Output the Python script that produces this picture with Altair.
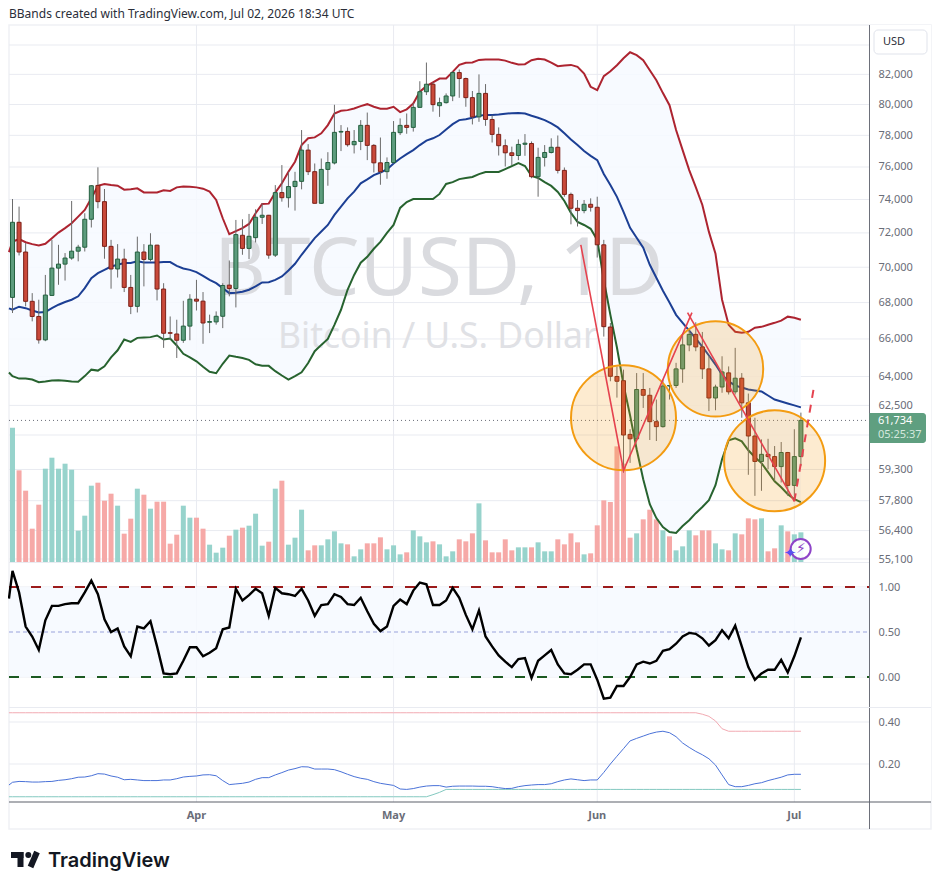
import altair as alt
import pandas as pd

dates = pd.date_range("2026-03-04", "2026-07-02", freq="D").strftime("%Y-%m-%d").tolist()

opens = [68290,72630,70880,68070,67230,65950,68400,69950,70180,70530,70930,71160,72810,74860,73870,71210,69900,70470,68850,67790,
70880,70450,71280,68760,66340,66270,65930,66700,68190,68080,66910,66930,67240,68980,68790,71860,71090,71720,72930,73050,
70700,74420,74110,74790,75110,77060,75710,73770,75850,76250,78210,78250,77400,77610,78640,77360,76260,75710,76280,78170,
78640,78510,79810,80840,81340,79920,80120,80560,82120,81720,80450,79190,80730,79020,78060,77340,76890,76720,77430,77480,
75400,76600,76910,77240,75790,74310,73470,73330,73710,73530,71300,66650,64000,63780,61030,60810,63320,63020,61670,61420,
63500,63530,64400,65680,66250,65570,64400,62880,63450,64190,63200,63910,62630,60950,59690,60040,59930,59440,60130,58530,59930]
highs = [74030,73570,71400,68530,68160,69560,71590,71300,70820,73910,71300,73170,74880,75980,74640,71590,71340,71070,69560,71780,
71340,71980,71300,69090,67230,67050,68100,68470,69280,68590,67330,67510,69090,70390,72770,72810,73130,73410,73770,73070,
74880,76120,75700,75700,78340,77440,76220,76530,76930,79980,78660,78510,78340,78980,79470,77440,77860,76600,78920,79090,
79410,80100,81540,82800,81460,80450,80730,82230,82330,81780,80890,82000,81350,79300,78510,77740,77280,77740,78080,77610,
77210,77380,77810,77990,75970,74420,73970,73970,74070,74170,71590,66870,64530,64360,61290,64180,64180,63400,62800,63840,
63530,64720,66320,66590,66910,66380,65070,63570,65070,64530,65520,64180,63110,61870,60780,60810,60450,60650,60160,61290,62130]
lows = [67420,70680,67790,66960,65750,65880,68400,69000,69240,70430,70340,70910,72320,73470,70490,68780,69410,68590,67360,67450,
68910,70340,68120,65520,65970,64980,65790,65930,67560,65740,66320,66780,66590,68350,67730,70720,70470,71440,72530,70490,
70590,73870,73510,73330,74620,75500,73770,73730,74840,76160,77000,77280,76850,77060,76430,75660,74900,75270,76220,78020,
78100,78240,79810,80620,79530,79190,80060,80220,80440,79850,78700,78870,78610,77540,76720,76030,76120,76430,76700,75300,
74170,76030,76850,75600,74170,72510,72380,73170,73270,70560,66130,63750,62900,59150,59620,60780,62370,60750,60700,61370,
62800,63400,63670,65340,65340,63870,62210,62250,63150,63060,63060,61870,59040,58030,58270,59310,58750,58670,58030,57790,59460]
closes = [72630,70880,68070,67230,65950,68420,69950,70180,70530,70930,71160,72810,74840,73870,71210,69900,70470,68850,67790,70880,
70450,71280,68760,66310,66310,65930,66700,68190,68080,66870,66950,67240,68960,68790,71900,71090,71800,72930,73050,70700,
74420,74110,74790,75110,77060,75710,73770,75850,76280,78190,78250,77400,77610,78640,77360,76260,75710,76280,78190,78640,
78510,79810,80840,81340,79990,80120,80560,82120,81720,80450,79190,80730,79020,78060,77340,76890,76720,77420,77500,75400,
76600,76910,77240,75790,74310,73470,73330,73710,73530,71300,66670,64010,63750,61000,60810,63320,63020,61670,61420,63500,
63530,64400,65680,66250,65570,64400,62880,63450,64240,63200,63910,62630,60950,59690,60040,59930,59440,60130,58530,59930,61734]

bb_upper = [71490,71630,71450,71340,71260,71360,71690,72020,72280,72570,72970,73370,74070,74840,74950,74880,74840,74600,74620,74680,
74430,74430,74430,74560,74520,74740,74800,74780,74740,74660,74480,73970,72870,71920,72100,72280,72530,73170,73730,73750,
74420,74990,75710,76330,77380,77810,77870,78130,78660,79410,79590,79630,79740,79890,80020,79850,79720,79720,79850,79500,
79680,80060,80840,81210,81460,81720,81720,82170,82640,82780,82800,82980,83000,83000,83000,82930,82780,82670,82690,82960,
83050,83000,82800,82550,82600,82640,82510,82060,81170,80945,81880,82210,82620,83090,83500,83300,82957,82280,81610,80750,
79950,78340,77060,75810,74760,73670,72060,70780,68160,66770,66390,66340,66390,66610,66660,66770,66880,67000,67220,67160,67050]
bb_basis = [67600,67770,67690,67560,67450,67470,67690,67880,68030,68160,68350,68810,69370,69660,69850,70040,70140,70240,70240,70340,
70280,70280,70280,70300,70300,70080,69930,69850,69720,69510,69280,69090,68810,68530,68550,68610,68720,68910,69130,69150,
69280,69470,69810,70200,70720,71210,71690,72080,72470,73070,73570,74070,74480,74990,75230,75500,75660,75850,76220,76530,
76810,77060,77380,77660,77810,78020,78380,78720,78980,79040,79130,79260,79320,79320,79340,79390,79430,79450,79410,79260,
79130,78980,78770,78510,78130,77740,77380,77000,76700,76430,75570,74880,74160,73250,72300,71710,71130,70140,69400,68660,
68000,67320,66880,66450,66020,65590,65110,64630,64100,63740,63530,63420,63320,63270,63220,63010,62800,62700,62600,62500,62400]
bb_lower = [64020,63890,63890,63840,63700,63740,63790,63800,63770,63740,63720,64020,64360,64310,64540,65010,65390,65970,65840,66060,
66080,66100,66190,65970,66020,65650,65200,65010,64800,64510,64250,64170,64670,65110,65040,64980,64880,64640,64570,64560,
64280,64050,63840,64020,64220,64710,65340,65680,66000,66770,67600,68720,69560,70260,70600,71070,71470,72000,72470,73490,
73850,74030,74030,74030,74030,74340,74950,75060,75250,75320,75380,75560,75690,75690,75690,75870,76060,76240,76060,75440,
75320,75060,74830,74460,73910,73190,72650,72470,72240,71590,69280,67320,65540,63570,61990,60290,58830,57630,56980,56560,
56330,56290,56610,56880,57210,57500,57820,58540,59800,60730,60830,60680,60240,59900,59610,59170,58730,58440,58110,57870,57730]

volumes = [403,275,214,100,172,280,313,280,295,277,94,139,229,238,184,205,169,85,130,220,
202,160,181,181,55,82,169,133,133,100,52,28,43,79,97,103,109,145,49,61,
220,244,52,73,157,35,50,50,68,92,56,53,17,38,56,56,74,38,50,23,
29,95,77,59,62,53,17,32,68,62,86,176,65,29,29,68,35,44,44,44,
59,32,32,68,53,86,59,23,26,110,185,180,347,295,73,86,128,157,128,95,
77,35,47,95,80,95,95,56,38,35,86,83,131,128,131,32,41,110,92,83,89]
volume_side = list("trrrrttttt" "tttrrrtrrt" "rtrrrrttrr" "tttrtrtttr" "trtttrrttt" "trttrrrttt"
                   "rtttrtttrr" "rtrrrrrttr" "tttrrrrtrr" "rrrrrtrrrt" "rtttrrrttr" "trrrtrrtrt" "t")

percent_b = [1.18,.94,.56,.45,.30,.63,.79,.79,.81,.82,.82,.94,1.07,.92,.64,.50,.54,.34,.23,.56,
.54,.62,.34,.04,.03,.04,.18,.33,.33,.23,.27,.32,.53,.55,.98,.85,.91,.98,.93,.68,
.99,.93,.92,.90,.98,.85,.68,.80,.81,.92,.89,.81,.80,.88,.73,.59,.51,.56,.79,.86,
.81,.96,1.05,1.03,.80,.80,.85,.99,.88,.69,.53,.74,.45,.34,.24,.17,.11,.20,.21,-.01,
.18,.24,.30,.14,.04,.03,.08,.14,.14,-.03,-.24,-.23,-.10,-.10,.00,.14,.17,.15,.18,.29,
.31,.37,.45,.49,.48,.43,.35,.41,.52,.43,.57,.34,.11,-.03,.04,.08,.08,.19,.05,.23,.44]

bb_width = [.113,.117,.116,.114,.114,.116,.117,.122,.125,.130,.137,.138,.144,.154,.152,.143,.137,.125,.127,.124,
.121,.121,.121,.124,.124,.130,.138,.141,.143,.148,.149,.144,.121,.102,.105,.108,.114,.127,.135,.135,
.148,.159,.171,.178,.187,.186,.176,.176,.176,.173,.163,.151,.140,.132,.127,.116,.108,.103,.098,.081,
.079,.083,.090,.095,.097,.097,.090,.094,.095,.095,.095,.094,.094,.092,.087,.083,.084,.092,.097,.100,
.102,.102,.106,.116,.124,.129,.125,.121,.124,.124,.160,.200,.237,.273,.310,.322,.333,.344,.352,.356,
.349,.330,.300,.279,.260,.244,.225,.195,.148,.102,.092,.092,.098,.106,.111,.121,.129,.137,.148,.151,.151]
width_high = [.444]*105 + [.437,.427,.405,.368] + [.356]*12
width_low = [.044]*64 + [.054,.065] + [.079]*55

# value of each line where it enters the pane, one bar-fraction before the first candle
line_entry = {"date":"2026-03-03T11:00:00Z","up":70870,"mid":67680,"lo":64210,"pb":.87,"bw":.100,"wh":.444,"wl":.044}

price_ticks = [82000,80000,78000,76000,74000,72000,70000,68000,66000,64000,62500,59300,57800,56400,55100]
price_grid = [84000,82000,80000,78000,76000,74000,72000,70000,68000,66000,64000,62500,61000,59300,57800,56400,55100]
osc_ticks = [1.0,0.5,0.0]
width_ticks = [0.4,0.2]
months = ["2026-04-01","2026-05-01","2026-06-01","2026-07-01"]
month_names = ["Apr","May","Jun","Jul"]

draw_a = [("2026-05-29T12:00:00Z",71300),("2026-06-05T00:00:00Z",59250),("2026-06-15T10:00:00Z",67440)]
draw_b = [("2026-06-14T18:00:00Z",67440),("2026-07-01T00:00:00Z",57770)]
draw_c = [("2026-07-01T00:00:00Z",57770),("2026-07-04T00:00:00Z",63480)]
circles = [("2026-06-05",61870,11025),("2026-06-19",64400,9101),("2026-06-28",59720,10201)]

FONT = "Noto Sans"
W, H = 924, 873

df = pd.DataFrame({"date":dates,"o":opens,"h":highs,"l":lows,"c":closes,"up":bb_upper,"mid":bb_basis,"lo":bb_lower,
                   "vol":volumes,"vs":volume_side,"pb":percent_b,"bw":bb_width,"wh":width_high,"wl":width_low})
df["dir"] = ["g" if c >= o else "r" for o, c in zip(opens, closes)]
lines = pd.concat([pd.DataFrame([line_entry]), df[["date","up","mid","lo","pb","bw","wh","wl"]]], ignore_index=True)

xs = alt.Scale(type="utc", domain=[alt.DateTime(year=2026, month=3, date=4, utc=True), alt.DateTime(year=2026, month=7, date=2, utc=True)], range=[4.5, 792.9], padding=0)
X = alt.X("date:T", scale=xs, axis=None, title=None)
ps = alt.Scale(type="log", domain=[55100, 84000], range=[551, 37], nice=False, zero=False, padding=0)
vs = alt.Scale(domain=[0, 403], range=[554, 419.7], nice=False, zero=True, padding=0)
os_ = alt.Scale(domain=[0, 1], range=[669, 579], nice=False, zero=False)
ws = alt.Scale(domain=[0.2, 0.4], range=[756, 714], nice=False, zero=False)

def YP(f):
    return alt.Y(f, scale=ps, axis=None, title=None)

def note(text, x, y, **kw):
    return alt.Chart(pd.DataFrame({"t":[text]})).mark_text(**kw).encode(text="t:N", x=alt.value(x-8), y=alt.value(y-8))

def box(x1, x2, y1, y2, **kw):
    return alt.Chart(pd.DataFrame({"a":[0]})).mark_rect(**kw).encode(x=alt.value(x1-8), x2=alt.value(x2-8), y=alt.value(y1-8), y2=alt.value(y2-8))

def hline(values, scale, **kw):
    return alt.Chart(pd.DataFrame({"v":values})).mark_rule(**kw).encode(y=alt.Y("v:Q", scale=scale, axis=None, title=None), x=alt.value(1), x2=alt.value(861))

axis_style = dict(orient="right", offset=-63, domain=False, ticks=False, grid=False, labelFont=FONT, labelFontSize=11,
                  labelColor="#6a6d78", labelPadding=9, labelOverlap=False, labelFlush=False, labelBound=False, zindex=1)

GRID = "#e9ebf1"
month_df = pd.DataFrame({"date":months,"name":month_names})
layers = []
layers.append(box(9, 931, 25, 829, fill="#ffffff", stroke="#f0f1f5", strokeWidth=1.5))
# grids
layers.append(hline(price_grid, ps, color=GRID, strokeWidth=1))
layers.append(hline(osc_ticks, os_, color=GRID, strokeWidth=1))
layers.append(hline(width_ticks, ws, color=GRID, strokeWidth=1))
layers.append(alt.Chart(month_df).mark_rule(color=GRID, strokeWidth=1).encode(x=X, y=alt.value(17), y2=alt.value(794)))
# band fill
layers.append(alt.Chart(lines).mark_area(color="#f6f9ff", opacity=0.85).encode(x=X, y=YP("up:Q"), y2="lo:Q"))
# watermark
layers.append(note("BTCUSD, 1D", 214, 295, align="left", baseline="alphabetic", font=FONT, fontSize=80, color="#dadbdf"))
layers.append(note("Bitcoin / U.S. Dollar", 278, 348, align="left", baseline="alphabetic", font=FONT, fontSize=35.5, color="#e0e1e5"))
# volume
layers.append(alt.Chart(df).mark_bar(size=5).encode(x=X, y=alt.Y("vol:Q", scale=vs, axis=None, title=None, stack=None),
    color=alt.Color("vs:N", scale=alt.Scale(domain=["t","r"], range=["#97d3cc","#f6a9a7"]), legend=None)))
# bands
layers.append(alt.Chart(lines).mark_line(color="#ad2430", strokeWidth=2).encode(x=X, y=YP("up:Q")))
layers.append(alt.Chart(lines).mark_line(color="#1c3f94", strokeWidth=2).encode(x=X, y=YP("mid:Q")))
layers.append(alt.Chart(lines).mark_line(color="#27632f", strokeWidth=2).encode(x=X, y=YP("lo:Q")))
# price line
layers.append(hline([closes[-1]], ps, color="#6a6d78", strokeWidth=1, strokeDash=[1,3]))
# candles
layers.append(alt.Chart(df).mark_rule(color="#6b6b6b", strokeWidth=1).encode(x=X, y=YP("l:Q"), y2="h:Q"))
layers.append(alt.Chart(df).mark_bar(size=4, strokeWidth=1).encode(x=X, y=YP("o:Q"), y2="c:Q",
    color=alt.Color("dir:N", scale=alt.Scale(domain=["g","r"], range=["#5c9c7d","#c9493a"]), legend=None),
    stroke=alt.Stroke("dir:N", scale=alt.Scale(domain=["g","r"], range=["#24603f","#7c2118"]), legend=None)))
# circles
layers.append(alt.Chart(pd.DataFrame(circles, columns=["date","p","s"])).mark_circle(color="#f39c12", fillOpacity=0.2, stroke="#f39c12", strokeWidth=2, opacity=1).encode(
    x=X, y=YP("p:Q"), size=alt.Size("s:Q", scale=None, legend=None)))
# drawn lines
layers.append(alt.Chart(pd.DataFrame(draw_a, columns=["date","p"])).mark_line(color="#e5434f", strokeWidth=1.6).encode(x=X, y=YP("p:Q")))
layers.append(alt.Chart(pd.DataFrame(draw_b, columns=["date","p"])).mark_line(color="#e5434f", strokeWidth=1.6).encode(x=X, y=YP("p:Q")))
layers.append(alt.Chart(pd.DataFrame(draw_c, columns=["date","p"])).mark_line(color="#e5434f", strokeWidth=2, strokeDash=[8,7]).encode(x=X, y=YP("p:Q")))
# oscillator
layers.append(alt.Chart(pd.DataFrame({"a":[1],"b":[0]})).mark_rect(color="#f6f9ff", opacity=0.85).encode(
    y=alt.Y("a:Q", scale=os_, axis=None, title=None), y2="b:Q", x=alt.value(1), x2=alt.value(861)))
layers.append(hline([1.0], os_, color="#9c1b1b", strokeWidth=2, strokeDash=[10,12]))
layers.append(hline([0.0], os_, color="#1c5a22", strokeWidth=2, strokeDash=[10,12]))
layers.append(hline([0.5], os_, color="#9aa3dc", strokeWidth=1, strokeDash=[4,3]))
layers.append(alt.Chart(lines).mark_line(color="#000000", strokeWidth=2.4).encode(x=X, y=alt.Y("pb:Q", scale=os_, axis=None, title=None)))
# width pane
layers.append(alt.Chart(lines).mark_line(color="#f2aab2", strokeWidth=1).encode(x=X, y=alt.Y("wh:Q", scale=ws, axis=None, title=None)))
layers.append(alt.Chart(lines).mark_line(color="#83c9c0", strokeWidth=1).encode(x=X, y=alt.Y("wl:Q", scale=ws, axis=None, title=None)))
layers.append(alt.Chart(lines).mark_line(color="#4a72d8", strokeWidth=1).encode(x=X, y=alt.Y("bw:Q", scale=ws, axis=None, title=None)))
# frame lines
layers.append(box(869, 931, 25, 802, fill="#ffffff"))
layers.append(box(869, 869.9, 25, 829, fill="#5d606b"))
layers.append(box(9, 931, 801.6, 802.6, fill="#5d606b"))
layers.append(box(9, 931, 707, 708, fill="#e9ebf1"))
layers.append(box(9, 869, 562, 563, fill="#e9ebf1"))
# month labels on the time axis
layers.append(alt.Chart(month_df).mark_text(font=FONT, fontSize=11, fontWeight="bold", color="#6a6d78", align="center", baseline="middle").encode(
    x=X, y=alt.value(807.5), text="name:N"))
# right axes
layers.append(alt.Chart(pd.DataFrame({"v":price_ticks})).mark_rule(opacity=0).encode(
    y=alt.Y("v:Q", scale=ps, title=None, axis=alt.Axis(values=price_ticks, format=",d", **axis_style))))
layers.append(alt.Chart(pd.DataFrame({"v":osc_ticks})).mark_rule(opacity=0).encode(
    y=alt.Y("v:Q", scale=os_, title=None, axis=alt.Axis(values=osc_ticks, format=".2f", **axis_style))))
layers.append(alt.Chart(pd.DataFrame({"v":width_ticks})).mark_rule(opacity=0).encode(
    y=alt.Y("v:Q", scale=ws, title=None, axis=alt.Axis(values=width_ticks, format=".2f", **axis_style))))
# price tag + button
layers.append(box(869.5, 926, 413, 443, fill="#5f9f80", cornerRadiusTopRight=3, cornerRadiusBottomRight=3))
layers.append(note("61,734", 878, 421, align="left", baseline="middle", font=FONT, fontSize=11, color="#ffffff"))
layers.append(note("05:25:37", 878, 435, align="left", baseline="middle", font=FONT, fontSize=11, color="#d5e8de"))
layers.append(box(874, 927, 30, 54, fill="#ffffff", stroke="#e0e3eb", strokeWidth=1, cornerRadius=4))
layers.append(note("USD", 894, 42, align="center", baseline="middle", font=FONT, fontSize=11, color="#2a2e39"))
# lightning badge
layers.append(alt.Chart(pd.DataFrame({"a":[0]})).mark_point(shape="circle", size=400, stroke="#8e44c8", strokeWidth=2, fill="#ffffff", fillOpacity=0.9, opacity=1).encode(x=alt.value(792.7), y=alt.value(541)))
layers.append(note("\u26a1", 801, 549, align="center", baseline="middle", font="DejaVu Sans", fontSize=14, color="#8e44c8"))
layers.append(note("\u2726", 790, 553, align="center", baseline="middle", font="DejaVu Sans", fontSize=15, color="#5a4ff0"))
# header, footer
layers.append(note("BBands created with TradingView.com, Jul 02, 2026 18:34 UTC", 9, 18, align="left", baseline="alphabetic", font=FONT, fontSize=12, color="#2a2e39"))
layers.append(box(11, 23.5, 852, 858, fill="#131722"))
layers.append(box(17.5, 23.5, 852, 867, fill="#131722"))
layers.append(alt.Chart(pd.DataFrame({"a":[0]})).mark_circle(size=36, color="#131722", opacity=1).encode(x=alt.value(20.3), y=alt.value(847)))
layers.append(alt.Chart(pd.DataFrame({"a":[0]})).mark_rule(color="#131722", strokeWidth=6).encode(x=alt.value(29), x2=alt.value(22.5), y=alt.value(844), y2=alt.value(859)))
layers.append(note("TradingView", 48, 861, align="left", baseline="middle", font="Inter", fontSize=20, fontWeight=600, color="#131722"))

chart = alt.layer(*layers).resolve_scale(y="independent", color="independent", stroke="independent", size="independent").properties(
    width=W, height=H, padding=0, autosize=alt.AutoSizeParams(type="none"), background="#ffffff"
).configure_view(stroke=None)

chart.save("out.html", embed_options={"renderer": "svg", "actions": False})
